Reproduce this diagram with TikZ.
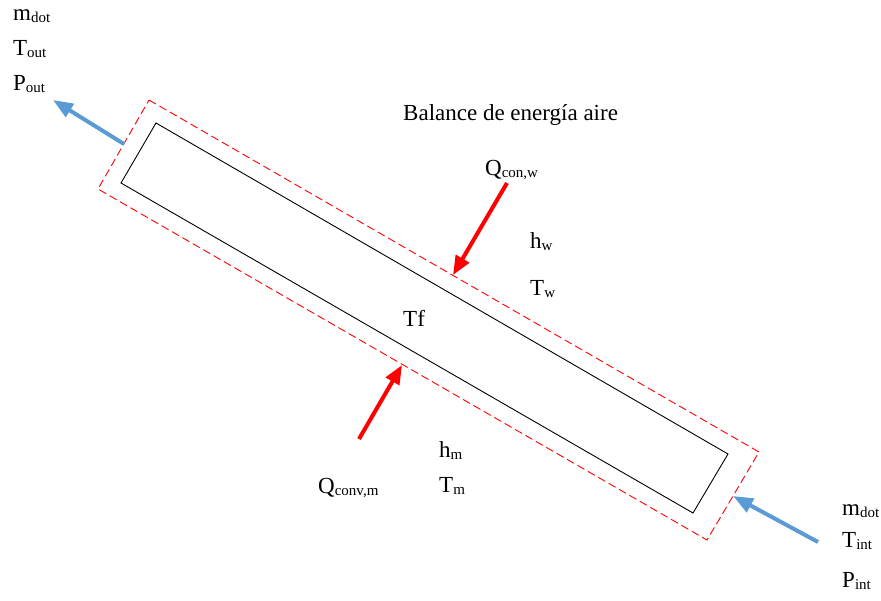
\documentclass[tikz,border=0pt]{standalone}
\usepackage{fontspec}
\setmainfont{Liberation Serif}
\usetikzlibrary{arrows.meta}
\definecolor{flowblue}{RGB}{91,155,213}
\newcommand{\mysb}[1]{\raisebox{-2.5pt}{\fontsize{15}{15}\selectfont #1}}
\tikzset{
  lbl/.style={anchor=base west, inner sep=0pt, font=\fontsize{23}{26}\selectfont},
  body/.style={draw=black, line width=0.9pt, line join=miter},
  ctrl/.style={draw=red, line width=0.9pt, dash pattern=on 8pt off 4pt},
  flow/.style={draw=flowblue, line width=4pt, -{Triangle[length=20pt,width=15pt]}, shorten >=0pt},
  heat/.style={draw=red, line width=4pt, -{Triangle[length=19pt,width=15pt]}}
}
\begin{document}
\begin{tikzpicture}[x=1pt,y=-1pt]
\useasboundingbox (0,0) rectangle (881,600);
% inner body
\coordinate (b1) at (156,123);
\coordinate (b2) at (728,454);
\coordinate (b3) at (693,513);
\coordinate (b4) at (121,183);
\draw[body] (b1) -- (b2) -- (b3) -- (b4) -- cycle;
% control volume
\coordinate (c1) at (149,100);
\coordinate (c2) at (759,452);
\coordinate (c3) at (707,540);
\coordinate (c4) at (98,189);
\draw[ctrl] (c1) -- (c2) -- (c3) -- (c4) -- cycle;
% flow arrows
\coordinate (outS) at (124,144);
\coordinate (outE) at (53,100);
\draw[flow] (outS) -- (outE);
\coordinate (inS) at (818,542);
\coordinate (inE) at (733,496);
\draw[flow] (inS) -- (inE);
% heat arrows
\coordinate (qwS) at (507,183);
\coordinate (qwE) at (453,275);
\draw[heat] (qwS) -- (qwE);
\coordinate (qmS) at (359,439);
\coordinate (qmE) at (402,365);
\draw[heat] (qmS) -- (qmE);
% labels
\node[lbl] (mout) at (13,20) {m\mysb{dot}};
\node[lbl] (tout) at (13,55) {T\mysb{out}};
\node[lbl] (pout) at (13,90) {P\mysb{out}};
\node[lbl] (title) at (403,120) {Balance de energía aire};
\node[lbl] (qw) at (485,175) {Q\mysb{con,w}};
\node[lbl] (hw) at (530,248) {h\mysb{w}};
\node[lbl] (tw) at (530,295) {T\mysb{w}};
\node[lbl] (tf) at (403,326) {Tf};
\node[lbl] (hm) at (439,457) {h\mysb{m}};
\node[lbl] (tm) at (439,492) {T\mysb{m}};
\node[lbl] (qm) at (318,493) {Q\mysb{conv,m}};
\node[lbl] (min) at (842,515) {m\mysb{dot}};
\node[lbl] (tin) at (842,547) {T\mysb{int}};
\node[lbl] (pin) at (842,587) {P\mysb{int}};
\end{tikzpicture}
\end{document}
